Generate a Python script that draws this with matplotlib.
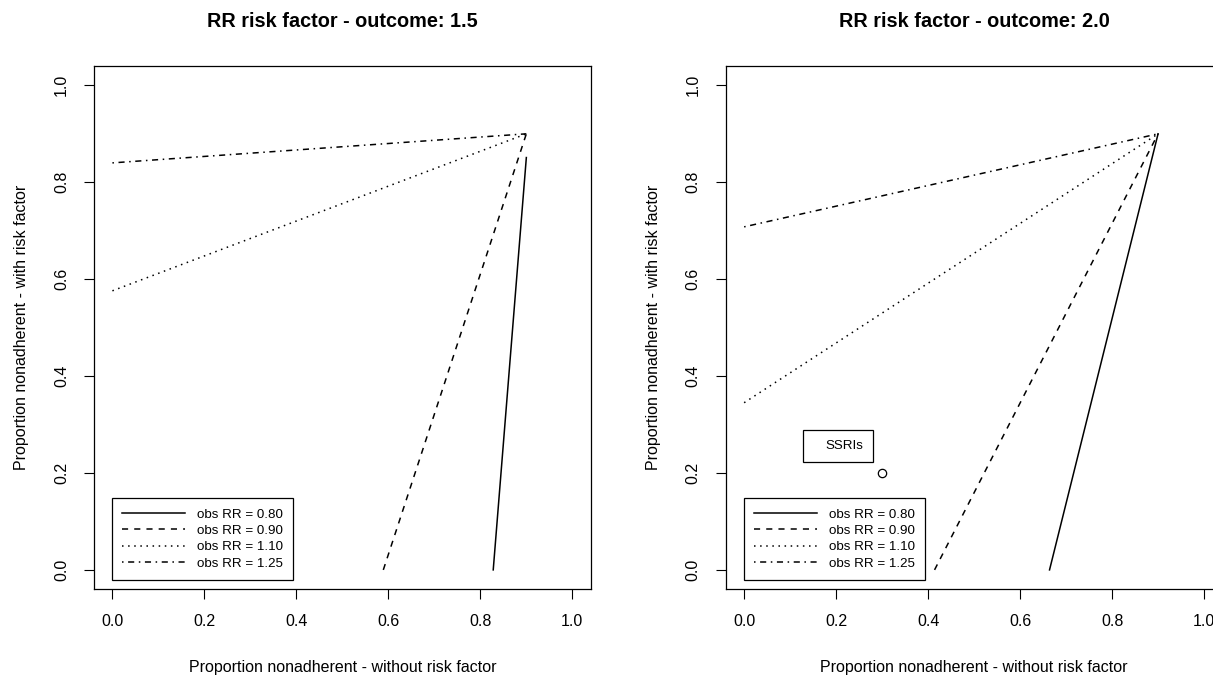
import matplotlib
matplotlib.use("Agg")
import matplotlib.pyplot as plt
from matplotlib.lines import Line2D

plt.rcParams['font.family'] = ['Liberation Sans', 'DejaVu Sans']

# values
titles = ['RR risk factor - outcome: 1.5', 'RR risk factor - outcome: 2.0']
rr_labels = ['obs RR = 0.80', 'obs RR = 0.90', 'obs RR = 1.10', 'obs RR = 1.25']
ticks = [0.0, 0.2, 0.4, 0.6, 0.8, 1.0]

# segment end points (without risk factor, with risk factor), one pair per obs RR
left_x = [[0.828, 0.900], [0.589, 0.900], [0.000, 0.900], [0.000, 0.900]]
left_y = [[0.000, 0.851], [0.000, 0.900], [0.576, 0.900], [0.840, 0.900]]
right_x = [[0.664, 0.900], [0.414, 0.900], [0.000, 0.900], [0.000, 0.900]]
right_y = [[0.000, 0.900], [0.000, 0.900], [0.345, 0.900], [0.708, 0.900]]

# the one study shown on the right
ssri_x = [0.30]
ssri_y = [0.20]
ssri_label = 'SSRIs'

dash_styles = ['-', (0, (4, 4)), (0, (1, 3)), (0, (1, 3, 4, 3))]

fig = plt.figure(figsize=(12.13, 6.76), dpi=100)
ax1 = fig.add_axes([0.0775, 0.1283, 0.4095, 0.7741])
ax2 = fig.add_axes([0.5983, 0.1283, 0.4095, 0.7741])


def style_axes(ax, title):
    ax.set_xlim(-0.04, 1.04)
    ax.set_ylim(-0.04, 1.04)
    ax.set_xticks(ticks)
    ax.set_yticks(ticks)
    ax.set_xticklabels([f'{t:.1f}' for t in ticks])
    ax.set_yticklabels([f'{t:.1f}' for t in ticks], rotation=90, va='center')
    ax.tick_params(direction='out', length=7, width=0.8, labelsize=11.5, pad=11)
    ax.tick_params(axis='y', pad=11)
    for s in ax.spines.values():
        s.set_linewidth(0.9)
    ax.set_title(title, fontsize=14.3, fontweight='bold', pad=28)
    ax.set_xlabel('Proportion nonadherent - without risk factor', fontsize=11.5, labelpad=22)
    ax.set_ylabel('Proportion nonadherent - with risk factor', fontsize=11.5, labelpad=18)


def draw_lines(ax, xs, ys):
    handles = []
    for x, y, ls, lab in zip(xs, ys, dash_styles, rr_labels):
        h, = ax.plot(x, y, color='black', lw=1.1, linestyle=ls, label=lab)
        handles.append(h)
    leg = ax.legend(handles=handles, loc='upper left', bbox_to_anchor=(0.0, 0.148),
                    bbox_transform=ax.transData, borderaxespad=0, fancybox=False,
                    edgecolor='black', framealpha=1, fontsize=9.6, handlelength=4.7,
                    handletextpad=0.9, labelspacing=0.3, borderpad=0.75)
    leg.get_frame().set_linewidth(0.9)
    return leg


style_axes(ax1, titles[0])
draw_lines(ax1, left_x, left_y)

style_axes(ax2, titles[1])
leg2 = draw_lines(ax2, right_x, right_y)
ax2.add_artist(leg2)
ax2.plot(ssri_x, ssri_y, 'o', mfc='none', mec='black', ms=6, mew=0.9)
blank = Line2D([], [], linestyle='none')
leg3 = ax2.legend(handles=[blank], labels=[ssri_label], loc='upper left',
                  bbox_to_anchor=(0.128, 0.289), bbox_transform=ax2.transData,
                  borderaxespad=0, fancybox=False, edgecolor='black', framealpha=1,
                  fontsize=9.6, handlelength=0.1, handletextpad=0.8, borderpad=0.75)
leg3.get_frame().set_linewidth(0.9)

fig.savefig('out.png', dpi=100)
